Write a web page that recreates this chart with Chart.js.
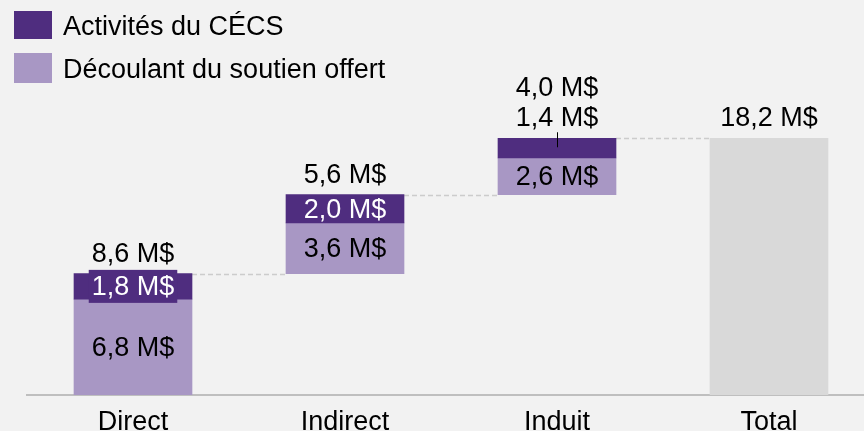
<!DOCTYPE html>
<html>
<head>
<meta charset="utf-8">
<title>Retombées économiques</title>
<script src="https://cdn.jsdelivr.net/npm/chart.js@4"></script>
<style>
    html, body { margin: 0; padding: 0; background: #f2f2f2; overflow: hidden; }
    #wrap { position: relative; width: 900px; height: 431px; }
</style>
</head>
<body>
<div id="wrap"><canvas id="impactChart" width="900" height="431"></canvas></div>
<script>
const categories = ["Direct", "Indirect", "Induit", "Total"];
const seriesNames = ["Activités du CÉCS", "Découlant du soutien offert"];
const cecsValues = [1.8, 2.0, 1.4];
const offeredValues = [6.8, 3.6, 2.6];
const totalValue = 18.2;

const DARK = "#4f2d7f";
const LIGHT = "#a897c4";
const GREY = "#d9d9d9";
const FONT = "'Liberation Sans', Arial, sans-serif";
const TEXT_DY = 1.5; // middle baseline sits a bit high for digits

// build the floating segments of the waterfall
let running = 0;
const offeredBars = [];
const cecsBars = [];
const stepTotals = [];
offeredValues.forEach((v, i) => {
    const start = running;
    offeredBars.push([start, start + v]);
    cecsBars.push([start + v, start + v + cecsValues[i]]);
    running = start + v + cecsValues[i];
    stepTotals.push(v + cecsValues[i]);
});
offeredBars.push(null);
cecsBars.push(null);
const totalBars = [null, null, null, [0, totalValue]];

const fmt = v => v.toFixed(1).replace(".", ",") + " M$";

// dashed connectors between the steps
const connectors = {
    id: "connectors",
    beforeDatasetsDraw(chart) {
        const ctx = chart.ctx;
        const y = chart.scales.y;
        const bars = chart.getDatasetMeta(0).data;
        const totalBar = chart.getDatasetMeta(2).data[3];
        ctx.save();
        ctx.strokeStyle = "#cccccc";
        ctx.lineWidth = 1.5;
        ctx.setLineDash([5, 3]);
        for (let i = 0; i < 3; i++) {
            const from = bars[i];
            const to = i < 2 ? bars[i + 1] : totalBar;
            const py = Math.round(y.getPixelForValue(cecsBars[i][1])) + 0.5;
            ctx.beginPath();
            ctx.moveTo(from.x + from.width / 2, py);
            ctx.lineTo(to.x - to.width / 2, py);
            ctx.stroke();
        }
        ctx.restore();
    }
};

// value labels on and above the bars
const valueLabels = {
    id: "valueLabels",
    afterDatasetsDraw(chart) {
        const ctx = chart.ctx;
        const dark = chart.getDatasetMeta(0).data;
        const light = chart.getDatasetMeta(1).data;
        const total = chart.getDatasetMeta(2).data[3];
        const put = (t, x, y) => ctx.fillText(t, x, y + TEXT_DY);
        ctx.save();
        ctx.font = "27px " + FONT;
        ctx.textAlign = "center";
        ctx.textBaseline = "middle";

        for (let i = 0; i < 3; i++) {
            const lo = light[i];
            ctx.fillStyle = "#000";
            put(fmt(offeredValues[i]), lo.x, (lo.y + lo.base) / 2);

            const hi = dark[i];
            const h = hi.base - hi.y;
            const txt = fmt(cecsValues[i]);
            let sumY = hi.y - 21;
            if (h >= 28) {
                ctx.fillStyle = "#fff";
                put(txt, hi.x, (hi.y + hi.base) / 2);
            } else if (h >= 22) {
                const w = ctx.measureText(txt).width + 6;
                const cy = (hi.y + hi.base) / 2;
                ctx.fillStyle = DARK;
                ctx.fillRect(hi.x - w / 2, cy - 16.5, w, 33);
                ctx.fillStyle = "#fff";
                put(txt, hi.x, cy);
            } else {
                ctx.fillStyle = "#000";
                put(txt, hi.x, hi.y - 21);
                ctx.strokeStyle = "#000";
                ctx.lineWidth = 1;
                ctx.beginPath();
                ctx.moveTo(Math.round(hi.x) + 0.5, hi.y - 6);
                ctx.lineTo(Math.round(hi.x) + 0.5, hi.y + 9);
                ctx.stroke();
                sumY = hi.y - 51;
            }
            ctx.fillStyle = "#000";
            put(fmt(stepTotals[i]), hi.x, sumY);
        }
        ctx.fillStyle = "#000";
        put(fmt(totalValue), total.x, total.y - 21);
        ctx.restore();
    }
};

// legend in the top left corner
const cornerLegend = {
    id: "cornerLegend",
    afterDraw(chart) {
        const ctx = chart.ctx;
        const rows = [{ y: 25, h: 28 }, { y: 68, h: 30 }];
        ctx.save();
        ctx.font = "27px " + FONT;
        ctx.textAlign = "left";
        ctx.textBaseline = "middle";
        rows.forEach((row, i) => {
            const ds = chart.data.datasets[i];
            ctx.fillStyle = ds.backgroundColor;
            ctx.fillRect(14, row.y - row.h / 2, 38, row.h);
            ctx.fillStyle = "#000";
            ctx.fillText(ds.label, 63, row.y + TEXT_DY + 1);
        });
        ctx.restore();
    }
};

const ctx = document.getElementById("impactChart").getContext("2d");
new Chart(ctx, {
    type: "bar",
    data: {
        labels: categories,
        datasets: [
            { label: seriesNames[0], data: cecsBars, backgroundColor: DARK },
            { label: seriesNames[1], data: offeredBars, backgroundColor: LIGHT },
            { label: "Total", data: totalBars, backgroundColor: GREY }
        ]
    },
    options: {
        responsive: false,
        animation: false,
        devicePixelRatio: 1,
        datasets: { bar: { barThickness: 118 } },
        layout: { padding: { left: 27, right: 25, top: 0, bottom: 0 } },
        plugins: {
            legend: { display: false },
            tooltip: { enabled: false }
        },
        scales: {
            x: {
                stacked: true,
                grid: { display: false, drawTicks: false },
                border: { color: "#bfbfbf", width: 2 },
                ticks: { color: "#000", padding: 11, font: { size: 27, family: FONT } },
                afterFit(scale) { scale.height = 36; }
            },
            y: { display: false, min: 0, max: 28 }
        }
    },
    plugins: [connectors, valueLabels, cornerLegend]
});
</script>
</body>
</html>
